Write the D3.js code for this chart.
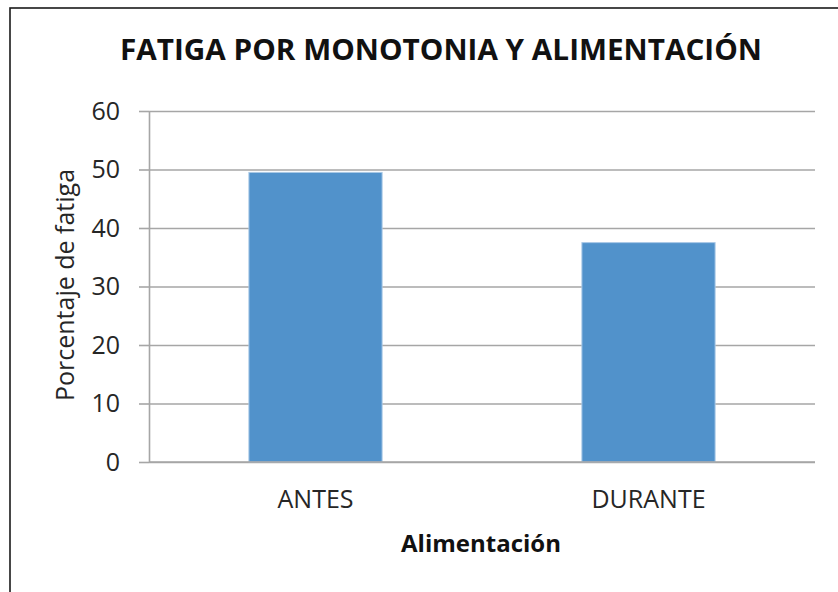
<!DOCTYPE html>
<html>
<head>
<meta charset="utf-8">
<script src="https://cdn.jsdelivr.net/npm/d3@7"></script>
<style>
    html, body { margin: 0; padding: 0; background: #fff; }
    svg { display: block; font-family: "Open Sans", sans-serif; }
</style>
</head>
<body>
<div id="chart-div"></div>
<script>
// Fatiga por monotonia y alimentación, bar chart

const categories = ["ANTES", "DURANTE"];
const values = [49.5, 37.5];
const yTicks = [0, 10, 20, 30, 40, 50, 60];

(function() {
    const width = 838, height = 592;
    const plot = {left: 149, right: 815, top: 111, bottom: 462};

    const svg = d3.select("#chart-div")
        .append("svg")
        .attr("width", width)
        .attr("height", height);

    // chart frame (only left and top edges fall inside the window)
    svg.append("rect")
        .attr("x", 10).attr("y", 8)
        .attr("width", 900).attr("height", 700)
        .attr("fill", "#fff")
        .attr("stroke", "#1a1a1a")
        .attr("stroke-width", 1.6);

    const x = d3.scaleBand()
        .domain(categories)
        .range([plot.left, plot.right])
        .padding(0);

    const y = d3.scaleLinear()
        .domain([0, 60])
        .range([plot.bottom, plot.top]);

    // gridlines
    svg.append("g")
        .attr("transform", `translate(${plot.left},0)`)
        .call(d3.axisLeft(y).tickValues(yTicks)
            .tickSize(-(plot.right - plot.left)).tickFormat(""))
        .call(g => g.select(".domain").remove())
        .call(g => g.selectAll("line")
            .attr("stroke", "#a6a6a6").attr("stroke-width", 1.6));

    // bars
    const barW = x.bandwidth() * 0.4;
    svg.selectAll(".bar")
        .data(values)
        .enter().append("rect")
        .attr("class", "bar")
        .attr("x", (d, i) => x(categories[i]) + (x.bandwidth() - barW) / 2)
        .attr("y", d => y(d))
        .attr("width", barW)
        .attr("height", d => y(0) - y(d))
        .attr("fill", "#5192cb")
        .attr("stroke", "#a9c8e6")
        .attr("stroke-width", 1);

    // y axis
    const yAxis = svg.append("g")
        .attr("transform", `translate(${plot.left},0)`)
        .call(d3.axisLeft(y).tickValues(yTicks)
            .tickSizeInner(10).tickSizeOuter(0).tickPadding(19));
    yAxis.select(".domain").attr("stroke", "#a6a6a6").attr("stroke-width", 1.6);
    yAxis.selectAll("line").attr("stroke", "#a6a6a6").attr("stroke-width", 1.6);
    yAxis.selectAll("text")
        .attr("font-family", "Open Sans")
        .attr("font-size", 25)
        .attr("fill", "#262626");

    // x axis
    const xAxis = svg.append("g")
        .attr("transform", `translate(0,${plot.bottom})`)
        .call(d3.axisBottom(x).tickSize(0).tickPadding(28));
    xAxis.select(".domain")
        .attr("d", `M${plot.left},0H${plot.right}`)
        .attr("stroke", "#a6a6a6").attr("stroke-width", 1.6);
    xAxis.selectAll("text")
        .attr("font-family", "Open Sans")
        .attr("font-size", 25)
        .attr("fill", "#262626");

    // titles
    svg.append("text")
        .attr("x", 441).attr("y", 60)
        .attr("text-anchor", "middle")
        .attr("font-size", 28)
        .attr("font-weight", "bold")
        .attr("fill", "#111")
        .attr("textLength", 642)
        .attr("lengthAdjust", "spacingAndGlyphs")
        .text("FATIGA POR MONOTONIA Y ALIMENTACIÓN");

    svg.append("text")
        .attr("transform", "translate(74,285) rotate(-90)")
        .attr("text-anchor", "middle")
        .attr("font-size", 25)
        .attr("fill", "#262626")
        .text("Porcentaje de fatiga");

    svg.append("text")
        .attr("x", 481).attr("y", 552)
        .attr("text-anchor", "middle")
        .attr("font-size", 24)
        .attr("font-weight", "bold")
        .attr("fill", "#111")
        .text("Alimentación");
})();
</script>
</body>
</html>
